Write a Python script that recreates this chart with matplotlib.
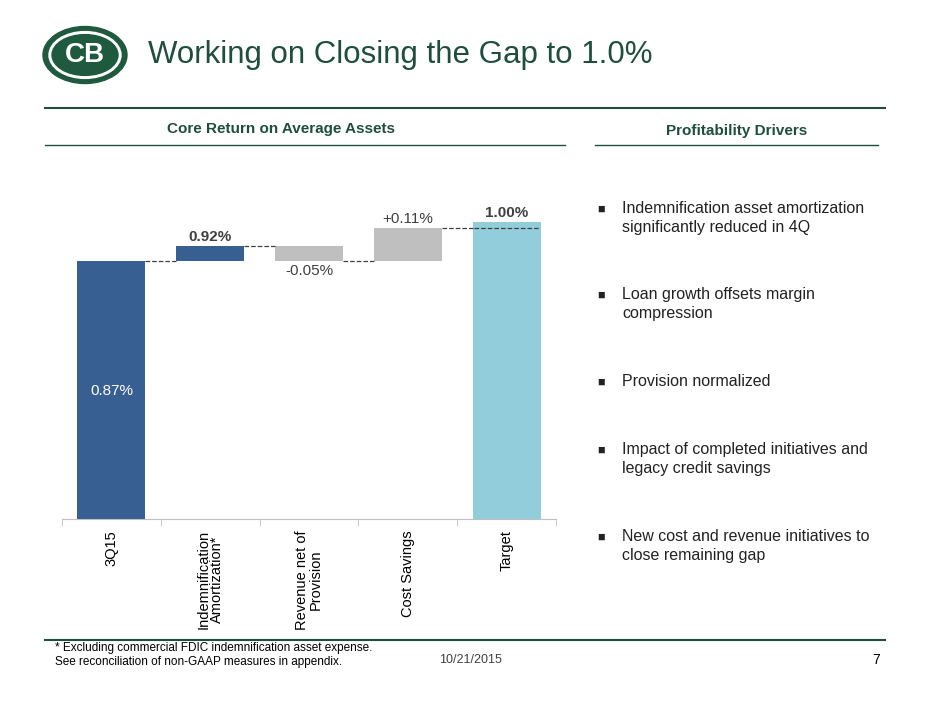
import matplotlib.pyplot as plt
from matplotlib.patches import Ellipse

categories = ['3Q15', 'Indemnification\nAmortization*', 'Revenue net of\nProvision', 'Cost Savings', 'Target']
changes = [0.87, 0.05, -0.05, 0.11, 1.00]
labels = ['0.87%', '0.92%', '-0.05%', '+0.11%', '1.00%']
colors = ['#375F91', '#375F91', '#BFBFBF', '#BFBFBF', '#92CDDC']
drivers = ['Indemnification asset amortization\nsignificantly reduced in 4Q',
           'Loan growth offsets margin\ncompression',
           'Provision normalized',
           'Impact of completed initiatives and\nlegacy credit savings',
           'New cost and revenue initiatives to\nclose remaining gap']
driver_y = [201, 287, 374, 442, 529]

plt.rcParams['font.family'] = ['Liberation Sans', 'DejaVu Sans']
fig = plt.figure(figsize=(9.4, 7.05), dpi=100)
W, H = 940, 705
green = '#1F4E3D'

# title and logo
fig.text(148/W, 1-55/H, 'Working on Closing the Gap to 1.0%', fontsize=22.5, color=green, va='center')
ax_logo = fig.add_axes([40/W, 1-85/H, 90/W, 60/H]); ax_logo.axis('off')
ax_logo.set_xlim(0, 1.5); ax_logo.set_ylim(0, 1)
ax_logo.add_patch(Ellipse((0.75, 0.5), 1.4, 0.95, color='#1F5A3F'))
ax_logo.add_patch(Ellipse((0.75, 0.5), 1.2, 0.78, color='white'))
ax_logo.add_patch(Ellipse((0.75, 0.5), 1.1, 0.68, color='#1F5A3F'))
ax_logo.text(0.75, 0.5, 'CB', color='white', fontsize=20, fontweight='bold', ha='center', va='center')

# rules
for y, x0, x1, lw in [(108, 45, 885, 1.5), (145, 45, 565, 1), (145, 595, 878, 1), (640, 45, 885, 1.5)]:
    fig.add_artist(plt.Line2D([x0/W, x1/W], [1-y/H, 1-y/H], color=green, lw=lw))
fig.text(281/W, 1-129/H, 'Core Return on Average Assets', fontsize=11, fontweight='bold', color=green, ha='center', va='center')
fig.text(737/W, 1-131/H, 'Profitability Drivers', fontsize=11, fontweight='bold', color=green, ha='center', va='center')

# waterfall
ax = fig.add_axes([62/W, 1-519/H, 494/W, 356/H])
bottoms, tops = [], []
level = 0
for i, c in enumerate(changes):
    if i in (0, len(changes)-1):
        b, t = 0, c
        level = c
    else:
        b, t = min(level, level+c), max(level, level+c)
        level += c
    bottoms.append(b); tops.append(t)
x = list(range(len(categories)))
ax.bar(x, [t-b for b, t in zip(bottoms, tops)], bottom=bottoms, color=colors, width=0.69)
level = changes[0]
for i in range(len(changes)-1):
    ax.plot([i+0.345, i+1-0.345], [level, level], ls='--', color='#404040', lw=0.9)
    level += changes[i+1] if i+1 < len(changes)-1 else 0
ax.plot([4-0.33, 4+0.33], [level, level], ls='--', color='#404040', lw=0.9)
ax.text(0, 0.43, labels[0], color='white', ha='center', va='center', fontsize=11)
ax.text(1, tops[1]+0.008, labels[1], ha='center', va='bottom', fontsize=11, fontweight='bold', color='#404040')
ax.text(2, bottoms[2]-0.01, labels[2], ha='center', va='top', fontsize=11, color='#404040')
ax.text(3, tops[3]+0.008, labels[3], ha='center', va='bottom', fontsize=11, color='#404040')
ax.text(4, tops[4]+0.008, labels[4], ha='center', va='bottom', fontsize=11, fontweight='bold', color='#404040')
ax.set_xlim(-0.5, 4.5); ax.set_ylim(0, 1.2)
for s in ['top', 'right', 'left']:
    ax.spines[s].set_visible(False)
ax.spines['bottom'].set_color('#BFBFBF')
ax.set_yticks([])
ax.set_xticks([i+0.5 for i in range(-1, 5)], minor=True)
ax.tick_params(axis='x', which='minor', length=5, color='#BFBFBF')
ax.set_xticks(x)
ax.set_xticklabels(categories, rotation=90, fontsize=10.5, linespacing=1.0)
ax.tick_params(axis='x', which='major', length=0, pad=8)

# drivers
for d, yy in zip(drivers, driver_y):
    y = 1-yy/H
    fig.text(597/W, y-0.004, '■', fontsize=9, va='top', color='#222222')
    fig.text(622/W, y, d, fontsize=11.5, va='top', color='#222222', linespacing=1.35)

fig.text(55/W, 1-655/H, '* Excluding commercial FDIC indemnification asset expense.\nSee reconciliation of non-GAAP measures in appendix.',
         fontsize=8.5, va='center')
fig.text(470/W, 1-660/H, '10/21/2015', fontsize=9, ha='center', va='center', color='#404040')
fig.text(880/W, 1-660/H, '7', fontsize=10, ha='right', va='center')
fig.savefig('out.png')
